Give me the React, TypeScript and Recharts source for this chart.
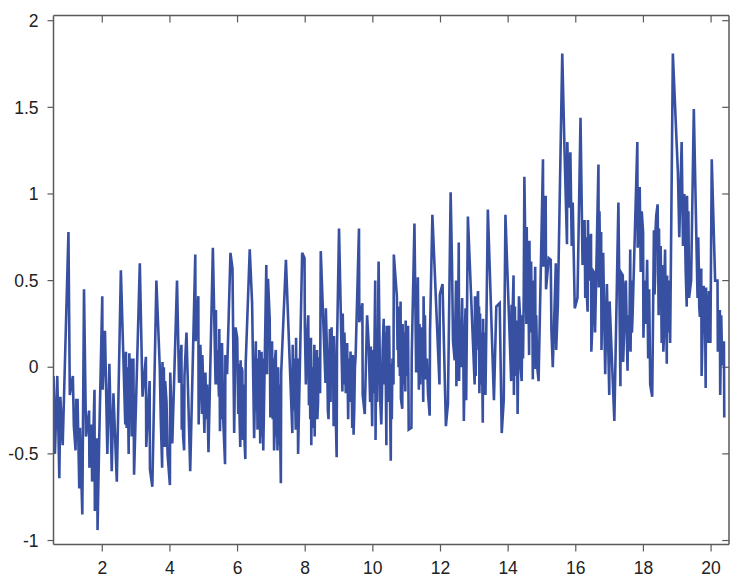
import React from 'react';
import { LineChart, Line, XAxis, YAxis, ReferenceLine } from 'recharts';

// peaks and troughs
const times = [
  0.56, 0.60, 0.67, 0.73, 0.76, 0.83, 1.00, 1.04, 1.13, 1.16, 1.21, 1.23, 1.27, 1.32, 1.34, 1.41, 1.46, 1.52, 1.61, 1.62,
  1.68, 1.70, 1.77, 1.78, 1.85, 1.86, 1.91, 2.00, 2.01, 2.08, 2.15, 2.21, 2.28, 2.33, 2.43, 2.55, 2.68, 2.70, 2.78, 2.80,
  2.87, 2.92, 2.94, 3.11, 3.19, 3.29, 3.30, 3.40, 3.41, 3.48, 3.60, 3.77, 3.78, 3.85, 3.86, 4.00, 4.01, 4.07, 4.21, 4.27,
  4.34, 4.35, 4.42, 4.43, 4.49, 4.60, 4.75, 4.76, 4.84, 4.85, 4.90, 4.95, 4.96, 5.02, 5.05, 5.14, 5.27, 5.35, 5.36, 5.45,
  5.46, 5.48, 5.54, 5.58, 5.63, 5.64, 5.69, 5.79, 5.85, 5.90, 5.94, 5.99, 6.02, 6.08, 6.09, 6.14, 6.16, 6.23, 6.24, 6.36,
  6.43, 6.49, 6.54, 6.59, 6.64, 6.67, 6.71, 6.76, 6.85, 6.87, 6.90, 6.95, 6.97, 7.02, 7.08, 7.13, 7.18, 7.20, 7.28, 7.29,
  7.43, 7.62, 7.63, 7.72, 7.73, 7.79, 7.91, 7.98, 7.99, 8.09, 8.11, 8.17, 8.18, 8.27, 8.28, 8.35, 8.36, 8.41, 8.44, 8.46,
  8.60, 8.61, 8.69, 8.73, 8.78, 8.84, 8.85, 8.93, 8.94, 9.00, 9.10, 9.11, 9.20, 9.24, 9.27, 9.34, 9.39, 9.41, 9.43, 9.49,
  9.59, 9.60, 9.69, 9.70, 9.76, 9.83, 9.88, 9.94, 9.98, 10.07, 10.08, 10.17, 10.22, 10.25, 10.32, 10.40, 10.41, 10.48,
  10.53, 10.54, 10.61, 10.62, 10.71, 10.76, 10.82, 10.83, 10.87, 10.88, 10.96, 10.97, 11.04, 11.06, 11.14, 11.15, 11.23,
  11.28, 11.33, 11.36, 11.38, 11.43, 11.49, 11.50, 11.56, 11.68, 11.69, 11.76, 11.97, 11.98, 12.06, 12.16, 12.22, 12.30,
  12.42, 12.46, 12.47, 12.54, 12.55, 12.64, 12.69, 12.74, 12.76, 12.81, 13.01, 13.02, 13.11, 13.15, 13.17, 13.25, 13.26,
  13.33, 13.40, 13.58, 13.65, 13.75, 13.81, 13.87, 13.92, 14.09, 14.10, 14.16, 14.17, 14.26, 14.28, 14.32, 14.40, 14.46,
  14.48, 14.54, 14.55, 14.62, 14.63, 14.68, 14.73, 14.74, 14.80, 14.81, 14.90, 15.03, 15.04, 15.11, 15.12, 15.20, 15.26,
  15.28, 15.32, 15.41, 15.42, 15.47, 15.60, 15.67, 15.74, 15.75, 15.80, 15.84, 15.97, 16.05, 16.14, 16.20, 16.26, 16.28,
  16.35, 16.36, 16.45, 16.46, 16.56, 16.57, 16.67, 16.68, 16.75, 16.76, 16.81, 16.87, 16.92, 16.99, 17.00, 17.14, 17.26,
  17.32, 17.33, 17.39, 17.40, 17.48, 17.53, 17.61, 17.62, 17.68, 17.82, 17.83, 17.89, 17.99, 18.00, 18.11, 18.14, 18.17,
  18.20, 18.26, 18.31, 18.33, 18.38, 18.42, 18.45, 18.46, 18.54, 18.55, 18.59, 18.64, 18.69, 18.70, 18.79, 18.87, 19.02,
  19.13, 19.28, 19.29, 19.35, 19.41, 19.49, 19.60, 19.62, 19.67, 19.71, 19.72, 19.78, 19.84, 19.85, 19.92, 19.94, 19.98,
  20.02, 20.12, 20.19, 20.20, 20.26, 20.27, 20.30, 20.33, 20.38, 20.39,
];

const values = [
  -0.05, -0.50, -0.05, -0.64, -0.17, -0.45, 0.78, -0.16, -0.05, -0.34, -0.48, -0.19, -0.19, -0.70, -0.35, -0.85, 0.45, -0.40, -0.25, -0.58,
  -0.33, -0.66, -0.13, -0.83, -0.41, -0.94, -0.41, 0.41, -0.13, 0.21, -0.50, 0.02, -0.60, -0.15, -0.66, 0.56, -0.33, 0.09, -0.50, 0.08,
  -0.40, 0.05, -0.62, 0.60, -0.17, 0.06, -0.46, -0.08, -0.59, -0.69, 0.50, -0.58, 0.03, -0.46, -0.08, -0.68, -0.03, -0.44, 0.50, -0.09,
  0.13, -0.36, -0.48, -0.05, 0.20, -0.60, 0.65, 0.15, 0.41, -0.33, 0.13, -0.27, 0.07, -0.38, -0.03, -0.49, 0.69, -0.10, 0.33, -0.17,
  0.22, -0.37, 0.14, -0.32, -0.56, 0.07, -0.04, 0.66, 0.57, -0.38, 0.23, 0.17, -0.27, -0.46, 0.04, -0.02, -0.42, -0.53, 0.02, 0.68,
  0.37, -0.41, 0.15, -0.36, 0.10, -0.44, 0.09, -0.48, 0.59, -0.04, 0.51, 0.28, -0.29, 0.15, -0.48, 0.10, -0.48, 0.00, -0.67, -0.03,
  0.62, -0.38, 0.13, -0.36, 0.17, -0.50, 0.66, 0.63, 0.23, 0.30, -0.22, 0.17, -0.45, 0.13, -0.40, 0.10, -0.30, 0.05, -0.15, 0.67,
  -0.09, 0.34, -0.30, 0.22, 0.23, -0.34, 0.18, -0.52, 0.12, 0.80, -0.14, 0.31, -0.15, 0.14, -0.30, 0.09, -0.35, 0.07, -0.39, 0.06,
  0.80, 0.26, 0.37, -0.16, -0.27, 0.30, 0.12, 0.12, -0.34, 0.50, -0.42, 0.61, -0.20, -0.33, 0.28, -0.45, 0.24, 0.24,
  -0.54, 0.02, -0.10, 0.65, 0.41, 0.00, 0.38, -0.18, -0.24, 0.25, -0.14, 0.27, 0.24, -0.36, -0.35, 0.07, 0.83,
  -0.03, 0.52, -0.13, 0.25, 0.23, -0.20, 0.41, -0.07, -0.28, 0.20, 0.88, -0.10, 0.42, 0.48, -0.34, -0.21, 1.01,
  0.04, 0.50, -0.11, 0.72, -0.08, 0.40, -0.31, 0.34, -0.19, 0.87, -0.10, 0.41, 0.44, -0.15, 0.31, -0.32, 0.28,
  -0.16, 0.91, -0.19, 0.35, 0.37, -0.38, -0.19, 0.88, -0.08, 0.36, 0.53, -0.16, 0.27, -0.27, 0.41, -0.08, 0.38,
  1.10, 0.25, 0.81, 0.07, 0.73, 0.61, -0.07, 0.50, 0.58, -0.01, -0.08, 1.20, 0.58, 0.99, 0.45, 0.63, 0.62,
  0.21, 0.00, 0.60, 0.10, 0.36, 1.81, 1.23, 0.71, 1.30, 0.92, 1.24, 0.34, 0.40, 1.44, 0.59, 0.85, 0.40,
  0.32, 0.85, 0.77, 0.09, 0.54, 0.20, 1.17, 0.46, 0.78, 0.10, 0.66, -0.04, 0.48, -0.16, 0.38, -0.31, 0.95,
  -0.11, 0.55, 0.53, 0.03, 0.50, -0.02, 0.68, 0.09, 0.30, 1.30, 0.69, 1.04, 0.78, 0.17, 0.62, 0.05, 0.45,
  -0.10, -0.17, 0.79, 0.42, 0.88, 0.94, 0.30, 0.80, 0.14, 0.59, 0.09, 0.68, 0.02, 0.53, 0.14, 1.81, 1.12,
  1.30, 0.35, 0.99, 0.40, 0.50, 1.49, 0.40, 0.75, 0.29, 0.57, -0.05, 0.47, -0.12, 0.46, 0.14, 0.44, 0.14,
  1.20, 0.50, 0.50, 0.09, 0.33, -0.16, 0.30, 0.01, 0.15, -0.29,
];

// smaller wiggles inside the dense bands of the trace
const fineTimes = [
  2.72, 2.75, 2.82, 2.84, 2.89, 2.90, 3.70, 3.73, 3.80, 3.82, 3.90, 3.93, 4.37, 4.39, 4.87, 4.88, 5.08, 5.10, 5.38, 5.41,
  5.50, 5.52, 6.04, 6.06, 6.11, 6.12, 6.19, 6.21, 6.56, 6.57, 6.61, 6.62, 6.73, 6.74, 7.04, 7.06, 7.10, 7.11, 7.15, 7.16,
  7.22, 7.24, 7.66, 7.68, 7.75, 7.77, 8.02, 8.05, 8.13, 8.15, 8.20, 8.23, 8.30, 8.32, 8.38, 8.39, 8.65, 8.67, 8.75, 8.76,
  8.80, 8.82, 9.14, 9.16, 9.29, 9.31, 9.36, 9.37, 9.45, 9.47, 9.90, 9.92, 10.00, 10.03, 10.10, 10.13, 10.27, 10.29, 10.35, 10.37,
  10.43, 10.45, 10.56, 10.58, 10.73, 10.74, 10.78, 10.80, 10.90, 10.92, 10.99, 11.01, 11.30, 11.31, 11.40, 11.41, 11.45, 11.47, 11.52, 11.54,
  11.60, 11.63, 12.34, 12.37, 12.49, 12.51, 12.57, 12.59, 12.66, 12.67, 12.71, 12.72, 13.04, 13.06, 13.13, 13.14, 13.19, 13.22, 13.28, 13.30,
  14.12, 14.13, 14.20, 14.22, 14.35, 14.37, 14.42, 14.44, 14.57, 14.59, 14.65, 14.66, 14.70, 14.71, 14.76, 14.78, 14.83, 14.86, 15.88, 15.91,
  16.30, 16.32, 16.38, 16.41, 16.50, 16.53, 16.70, 16.72, 17.43, 17.45, 17.55, 17.58, 17.64, 17.66, 17.85, 17.87, 17.92, 17.95, 18.03, 18.07,
  18.35, 18.36, 18.48, 18.51, 18.61, 18.62, 18.66, 18.67, 18.72, 18.75, 19.06, 19.17, 19.21, 19.25, 19.31, 19.33, 19.64, 19.65, 19.80, 19.82,
];

const fineValues = [
  -0.35, 0.00, -0.10, 0.05, -0.30, 0.00, 0.00, -0.30, -0.20, 0.00, -0.20, -0.50, -0.10, -0.40, -0.10, 0.10, -0.30, -0.10, -0.10, 0.10,
  -0.10, -0.30, 0.02, -0.30, -0.35, 0.00, -0.10, -0.45, -0.25, 0.05, 0.00, -0.35, -0.40, 0.05, -0.30, 0.05, -0.35, 0.05, -0.40, 0.00,
  -0.45, -0.10, -0.25, 0.05, -0.30, 0.05, -0.10, 0.15, 0.05, -0.30, 0.00, -0.35, 0.00, -0.30, -0.20, 0.05, 0.05, -0.25, -0.20, 0.15,
  -0.10, 0.15, -0.10, 0.20, 0.05, -0.20, -0.10, 0.05, -0.25, 0.00, -0.05, -0.20, 0.10, -0.15, 0.10, -0.20, -0.15, 0.10, -0.10, 0.20,
  -0.20, 0.15, -0.30, 0.05, 0.10, 0.35, 0.25, -0.05, -0.10, 0.20, -0.05, 0.15, 0.20, 0.05, -0.10, 0.10, -0.05, 0.10, 0.10, 0.30,
  0.05, -0.15, 0.60, 0.15, 0.30, -0.05, 0.25, 0.00, 0.00, 0.20, -0.05, 0.20, -0.05, 0.30, 0.10, 0.35, -0.10, 0.20, -0.10, 0.20,
  0.00, 0.30, 0.35, -0.05, 0.30, 0.00, 0.30, 0.05, 0.30, 0.60, 0.20, 0.45, 0.20, 0.45, 0.10, 0.35, 0.30, 0.00, 0.70, 0.95,
  0.75, 0.45, 0.50, 0.70, 0.30, 0.55, 0.90, 0.55, 0.20, 0.45, 0.30, 0.10, 0.50, 0.20, 0.85, 1.00, 0.55, 0.90, 0.50, 0.25,
  0.55, 0.80, 0.45, 0.70, 0.20, 0.50, 0.30, 0.50, 0.20, 0.50, 0.75, 0.70, 1.00, 0.55, 0.60, 0.90, 0.55, 0.35, 0.20, 0.35,
];

const xTicks = [2, 4, 6, 8, 10, 12, 14, 16, 18, 20];
const yTicks = [-1, -0.5, 0, 0.5, 1, 1.5, 2];

const xDomain = [0.558, 20.53];
const yDomain = [-1.023, 2.03];

const chartData = [
  ...times.map((t, i) => ({ t, v: values[i] })),
  ...fineTimes.map((t, i) => ({ t, v: fineValues[i] })),
].sort((a, b) => a.t - b.t);

const axisColor = '#5a5a5a';
const axisLine = { stroke: axisColor, strokeWidth: 1.5 };
const tickLine = { stroke: axisColor, strokeWidth: 1.2 };
const tickStyle = { fontSize: 17.5, fill: '#222', fontFamily: '"Liberation Sans", Arial, sans-serif' };

const App = () => (
  <div style={{ position: 'absolute', left: 0, top: 0 }}>
    <LineChart
      width={750}
      height={587}
      data={chartData}
      margin={{ top: 0, right: 0, left: 0, bottom: 0 }}
    >
      <XAxis
        dataKey="t"
        type="number"
        domain={xDomain}
        ticks={xTicks}
        allowDataOverflow
        height={42.5}
        tick={tickStyle}
        tickSize={7}
        tickMargin={10}
        axisLine={axisLine}
        tickLine={tickLine}
      />
      <XAxis
        xAxisId="top"
        orientation="top"
        dataKey="t"
        type="number"
        domain={xDomain}
        allowDataOverflow
        height={15.5}
        tick={false}
        axisLine={axisLine}
        tickLine={false}
      />
      <YAxis
        type="number"
        domain={yDomain}
        ticks={yTicks}
        allowDataOverflow
        width={53.5}
        tick={tickStyle}
        tickSize={6}
        tickMargin={9}
        axisLine={axisLine}
        tickLine={tickLine}
      />
      <YAxis
        yAxisId="right"
        orientation="right"
        type="number"
        domain={yDomain}
        allowDataOverflow
        width={21}
        tick={false}
        axisLine={axisLine}
        tickLine={false}
      />
      {/* invisible copy so the top and right axes get drawn */}
      <Line
        xAxisId="top"
        yAxisId="right"
        type="linear"
        dataKey="v"
        stroke="none"
        dot={false}
        isAnimationActive={false}
      />
      {/* inward tick marks on the top and right frame */}
      {xTicks.map((t) => (
        <ReferenceLine
          key={`top-${t}`}
          segment={[{ x: t, y: yDomain[1] }, { x: t, y: yDomain[1] - 0.04 }]}
          ifOverflow="visible"
          stroke={axisColor}
          strokeWidth={1.2}
        />
      ))}
      {yTicks.map((v) => (
        <ReferenceLine
          key={`right-${v}`}
          segment={[{ x: xDomain[1], y: v }, { x: xDomain[1] - 0.2, y: v }]}
          ifOverflow="visible"
          stroke={axisColor}
          strokeWidth={1.2}
        />
      ))}
      <Line
        type="linear"
        dataKey="v"
        stroke="#3850a2"
        strokeWidth={2.6}
        dot={false}
        isAnimationActive={false}
      />
    </LineChart>
  </div>
);

export default App;
